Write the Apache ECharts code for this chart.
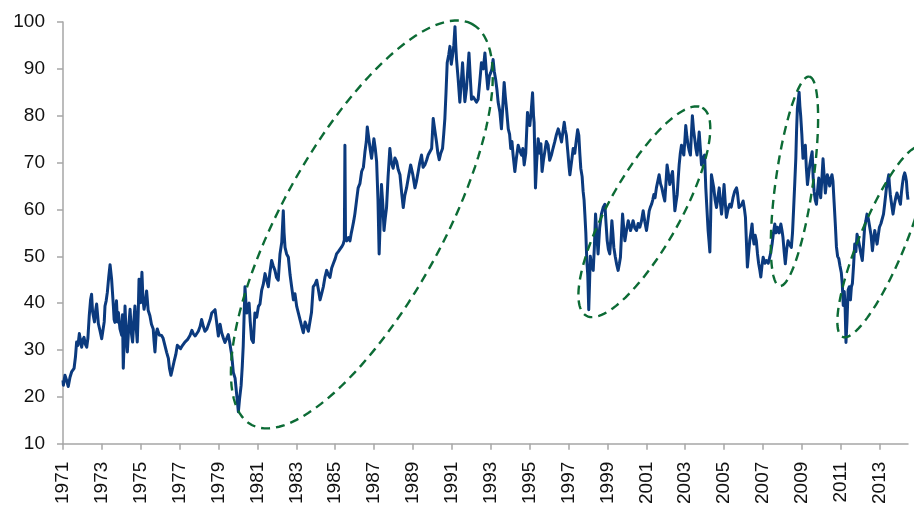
<!DOCTYPE html>
<html>
<head>
<meta charset="utf-8">
<script src="https://cdn.jsdelivr.net/npm/echarts@6/dist/echarts.min.js"></script>
<style>
html,body{margin:0;padding:0;background:#fff;}
#chart{width:914px;height:507px;}
</style>
</head>
<body>
<div id="chart"></div>
<script>
// Tick labels
const xTickLabels = ['1971','1973','1975','1977','1979','1981','1983','1985','1987','1989','1991','1993','1995','1997','1999','2001','2003','2005','2007','2009','2011','2013'];
const yTickValues = [10,20,30,40,50,60,70,80,90,100];

// Series values [decimal year, value]
const values1971to1978 = [
[1971.00,23.5],[1971.02,22.5],[1971.10,24.6],[1971.18,23.6],[1971.27,22.2],[1971.36,24.2],[1971.45,25.4],[1971.57,26.1],[1971.64,28.5],[1971.70,31.7],
[1971.77,31.0],[1971.84,33.5],[1971.90,32.0],[1971.96,30.6],[1972.02,32.2],[1972.08,32.7],[1972.15,31.2],[1972.22,30.6],[1972.28,32.5],[1972.35,37.3],
[1972.42,40.8],[1972.47,41.9],[1972.52,38.2],[1972.56,37.3],[1972.62,36.0],[1972.68,38.5],[1972.73,39.8],[1972.82,35.6],[1972.90,34.2],[1972.99,32.4],
[1973.07,32.2],[1973.12,36.0],[1973.16,39.4],[1973.22,40.5],[1973.28,42.3],[1973.35,45.5],[1973.42,48.2],[1973.50,45.1],[1973.55,42.0],[1973.59,39.4],
[1973.63,36.5],[1973.67,35.9],[1973.75,40.5],[1973.80,36.0],[1973.85,38.0],[1973.93,34.5],[1974.02,33.1],[1974.06,37.5],[1974.10,26.1],[1974.14,31.0],
[1974.19,39.4],[1974.25,33.0],[1974.31,29.6],[1974.38,35.0],[1974.45,38.7],[1974.52,33.5],[1974.58,31.7],[1974.64,36.0],[1974.70,39.4],[1974.76,35.0],
[1974.82,31.7],[1974.87,38.0],[1974.91,45.1],[1974.95,42.0],[1974.99,40.1],[1975.06,46.6],[1975.11,41.0],[1975.17,38.7],[1975.24,40.5],[1975.30,42.6],
[1975.38,38.5],[1975.47,37.3],[1975.55,35.5],[1975.64,34.5],[1975.68,32.0],[1975.73,29.6],[1975.79,33.5],[1975.85,34.5],[1975.95,33.2],[1976.07,33.1],
[1976.15,32.5],[1976.24,31.0],[1976.33,29.5],[1976.42,28.2],[1976.48,26.0],[1976.55,24.6],[1976.62,25.8],[1976.71,27.5],[1976.80,29.0],[1976.88,31.0],
[1976.96,30.8],[1977.05,30.3],[1977.15,31.0],[1977.27,31.7],[1977.40,32.2],[1977.53,33.1],[1977.63,34.2],[1977.70,33.5],[1977.80,33.0],[1977.96,34.0]
];
const values1978to1985 = [
[1978.05,35.0],[1978.13,36.5],[1978.22,35.0],[1978.30,34.0],[1978.40,34.5],[1978.48,34.7],[1978.57,36.5],[1978.65,37.9],[1978.74,38.0],[1978.82,38.6],
[1978.90,36.0],[1978.99,33.0],[1979.08,35.5],[1979.16,33.7],[1979.25,32.5],[1979.33,31.6],[1979.42,32.5],[1979.50,33.3],[1979.58,31.5],[1979.68,28.8],
[1979.76,25.2],[1979.85,24.0],[1979.93,23.8],[1980.02,16.8],[1980.08,19.5],[1980.16,22.4],[1980.22,26.5],[1980.27,30.9],[1980.32,38.0],[1980.36,43.5],
[1980.41,40.0],[1980.45,37.9],[1980.51,39.5],[1980.57,40.0],[1980.63,36.0],[1980.70,32.3],[1980.79,31.6],[1980.87,37.9],[1980.96,37.0],[1981.05,39.3],
[1981.13,39.8],[1981.22,42.8],[1981.30,44.0],[1981.39,46.3],[1981.47,45.0],[1981.56,43.5],[1981.64,46.5],[1981.73,49.1],[1981.81,48.0],[1981.90,47.0],
[1981.98,45.5],[1982.07,44.9],[1982.16,50.5],[1982.25,53.0],[1982.33,59.7],[1982.37,55.0],[1982.42,51.9],[1982.50,50.5],[1982.59,49.8],[1982.68,46.0],
[1982.76,43.5],[1982.85,40.7],[1982.93,42.0],[1983.02,39.3],[1983.10,38.0],[1983.19,36.5],[1983.28,35.0],[1983.36,33.7],[1983.45,36.0],[1983.53,35.1],
[1983.62,34.0],[1983.70,33.7],[1983.78,38.0],[1983.87,43.5],[1983.96,44.0],[1984.05,44.9],[1984.13,43.0],[1984.22,40.7],[1984.30,42.0],[1984.39,43.5],
[1984.47,45.5],[1984.56,47.0],[1984.65,46.0],[1984.73,45.5],[1984.82,47.5],[1984.90,48.4]
];
const values1985to1992 = [
[1985.00,49.5],[1985.07,50.5],[1985.16,51.0],[1985.24,51.2],[1985.33,52.0],[1985.41,52.6],[1985.47,53.5],[1985.50,73.7],[1985.53,54.0],[1985.59,53.3],
[1985.68,54.0],[1985.76,53.3],[1985.83,55.0],[1985.89,56.2],[1985.95,57.5],[1986.01,59.0],[1986.10,62.0],[1986.18,64.6],[1986.27,65.5],[1986.36,68.1],
[1986.45,69.0],[1986.53,72.3],[1986.60,74.5],[1986.65,77.6],[1986.70,76.0],[1986.75,74.4],[1986.81,72.5],[1986.87,70.9],[1986.93,73.0],[1986.99,75.1],
[1987.06,73.0],[1987.13,70.2],[1987.20,62.0],[1987.26,50.5],[1987.32,58.0],[1987.38,65.3],[1987.45,61.0],[1987.51,55.5],[1987.57,58.0],[1987.64,60.4],
[1987.72,67.0],[1987.81,73.0],[1987.89,70.0],[1987.98,68.8],[1988.07,71.0],[1988.16,70.2],[1988.24,68.5],[1988.33,67.4],[1988.42,63.5],[1988.50,60.4],
[1988.58,63.0],[1988.67,64.6],[1988.77,67.0],[1988.88,69.5],[1988.99,67.5],[1989.10,64.6],[1989.18,66.0],[1989.27,68.1],[1989.35,70.0],[1989.44,71.6],
[1989.52,69.0],[1989.61,69.5],[1989.70,70.5],[1989.78,71.6],[1989.87,72.0],[1989.96,73.0],[1990.04,79.4],[1990.12,77.0],[1990.21,74.4],[1990.28,72.0],
[1990.35,70.6],[1990.43,72.0],[1990.52,73.0],[1990.58,76.0],[1990.64,79.4],[1990.70,85.0],[1990.76,91.3],[1990.84,93.0],[1990.90,94.8],[1990.97,91.0],
[1991.03,92.7],[1991.10,95.0],[1991.16,99.0],[1991.20,95.0],[1991.24,92.0],[1991.32,88.0],[1991.41,82.9],[1991.48,87.0],[1991.55,91.3],[1991.61,87.0],
[1991.67,83.0],[1991.75,85.7],[1991.88,93.4],[1991.95,88.0],[1992.01,83.5]
];
const values1992to1999 = [
[1992.10,84.0],[1992.18,84.3],[1992.27,82.9],[1992.35,83.5],[1992.43,87.0],[1992.52,91.3],[1992.62,90.0],[1992.70,93.4],[1992.78,89.0],[1992.85,85.7],
[1992.93,88.5],[1993.00,89.2],[1993.06,90.0],[1993.12,92.0],[1993.18,89.5],[1993.25,87.8],[1993.32,85.5],[1993.38,82.9],[1993.47,80.8],[1993.55,77.2],
[1993.62,82.0],[1993.69,87.1],[1993.75,84.0],[1993.81,81.5],[1993.90,77.2],[1993.97,76.0],[1994.03,73.0],[1994.09,74.5],[1994.15,71.6],[1994.24,68.1],
[1994.32,71.0],[1994.41,73.7],[1994.50,72.5],[1994.58,71.6],[1994.65,73.0],[1994.72,69.5],[1994.80,72.0],[1994.89,80.7],[1994.95,78.5],[1995.01,77.9],
[1995.08,81.0],[1995.15,84.9],[1995.20,80.0],[1995.23,78.6],[1995.30,64.6],[1995.36,70.0],[1995.44,75.1],[1995.52,72.0],[1995.58,74.0],[1995.64,68.1],
[1995.71,70.5],[1995.78,72.3],[1995.86,74.5],[1995.95,73.7],[1996.03,70.5],[1996.12,71.6],[1996.20,73.0],[1996.29,74.4],[1996.38,76.0],[1996.47,77.2],
[1996.55,76.0],[1996.64,74.4],[1996.71,76.5],[1996.78,78.6],[1996.83,77.0],[1996.89,75.8],[1996.97,72.0],[1997.03,69.0],[1997.07,67.4],[1997.15,70.0],
[1997.24,73.0],[1997.32,72.0],[1997.41,75.1],[1997.47,77.0],[1997.53,75.8],[1997.58,72.0],[1997.63,68.8],[1997.70,67.0],[1997.75,63.9],[1997.80,62.0],
[1997.84,59.0],[1997.89,55.0],[1997.94,49.1],[1997.99,46.0],[1998.04,38.6],[1998.08,44.0],[1998.12,50.0],[1998.15,49.1],[1998.21,48.0],[1998.27,47.0],
[1998.33,52.0],[1998.39,59.0],[1998.45,55.0],[1998.52,50.5],[1998.60,56.0],[1998.69,59.0],[1998.78,60.4],[1998.87,61.1],[1998.93,57.0],[1998.99,53.3]
];
const values1999to2006 = [
[1999.05,51.5],[1999.12,50.5],[1999.18,54.0],[1999.23,57.6],[1999.28,55.0],[1999.33,51.9],[1999.40,50.0],[1999.47,48.4],[1999.55,47.0],[1999.62,48.5],
[1999.67,49.8],[1999.73,55.0],[1999.78,59.0],[1999.84,56.0],[1999.90,53.3],[1999.98,55.5],[2000.07,57.6],[2000.13,56.5],[2000.19,55.5],[2000.26,56.5],
[2000.32,57.6],[2000.41,56.0],[2000.50,55.5],[2000.58,57.0],[2000.67,56.2],[2000.75,57.5],[2000.84,59.7],[2000.92,57.5],[2001.01,55.5],[2001.08,57.5],
[2001.15,59.7],[2001.21,60.5],[2001.27,61.1],[2001.33,62.0],[2001.39,63.2],[2001.45,62.5],[2001.52,64.6],[2001.59,66.0],[2001.66,67.4],[2001.73,65.5],
[2001.80,64.6],[2001.88,63.0],[2001.95,61.8],[2002.01,65.5],[2002.07,69.5],[2002.14,67.5],[2002.21,65.3],[2002.28,67.0],[2002.35,68.1],[2002.41,64.0],
[2002.47,59.7],[2002.53,61.5],[2002.59,63.2],[2002.64,66.5],[2002.69,69.5],[2002.75,72.0],[2002.81,73.7],[2002.87,72.5],[2002.93,71.6],[2002.98,74.5],
[2003.03,77.9],[2003.09,75.5],[2003.15,73.7],[2003.21,72.5],[2003.27,71.6],[2003.32,76.0],[2003.37,80.0],[2003.43,77.0],[2003.49,75.1],[2003.55,73.0],
[2003.61,71.6],[2003.67,74.0],[2003.72,76.5],[2003.78,73.0],[2003.84,69.5],[2003.92,71.0],[2004.00,71.6],[2004.03,68.0],[2004.06,64.6],[2004.12,60.0],
[2004.18,55.5],[2004.23,53.0],[2004.27,50.9],[2004.31,58.0],[2004.35,67.4],[2004.41,66.0],[2004.47,64.6],[2004.54,62.0],[2004.61,60.4],[2004.68,62.5],
[2004.75,64.6],[2004.81,61.5],[2004.87,59.0],[2004.94,62.0],[2005.00,65.3],[2005.06,61.5],[2005.12,58.3],[2005.20,60.0],[2005.29,61.1],[2005.37,60.5],
[2005.46,62.5],[2005.55,63.9],[2005.64,64.6],[2005.69,63.5],[2005.77,60.4],[2005.84,60.8],[2005.90,61.0],[2005.98,61.8]
];
const values2006to2014 = [
[2006.05,60.0],[2006.10,58.3],[2006.15,53.0],[2006.20,47.7],[2006.26,50.5],[2006.32,53.3],[2006.38,55.0],[2006.44,56.9],[2006.49,54.0],[2006.54,52.6],
[2006.60,54.5],[2006.66,53.3],[2006.72,50.5],[2006.78,48.4],[2006.84,47.0],[2006.89,45.6],[2006.95,48.0],[2007.01,49.8],[2007.10,48.5],[2007.18,49.1],
[2007.27,48.5],[2007.35,49.8],[2007.41,51.0],[2007.47,52.6],[2007.54,55.0],[2007.61,56.9],[2007.67,55.0],[2007.74,56.2],[2007.83,55.0],[2007.92,56.9],
[2007.98,55.5],[2008.03,54.0],[2008.09,51.0],[2008.15,48.4],[2008.22,51.5],[2008.29,53.3],[2008.37,52.5],[2008.46,51.9],[2008.52,55.0],[2008.58,60.4],
[2008.64,66.0],[2008.69,70.9],[2008.73,77.0],[2008.77,81.5],[2008.82,83.5],[2008.86,85.0],[2008.90,82.0],[2008.94,80.0],[2009.00,76.0],[2009.06,70.9],
[2009.12,72.5],[2009.18,73.7],[2009.23,69.0],[2009.29,65.3],[2009.35,67.5],[2009.41,69.5],[2009.47,71.0],[2009.53,72.3],[2009.58,67.0],[2009.63,63.9],
[2009.69,62.0],[2009.75,61.1],[2009.81,64.0],[2009.87,66.7],[2009.92,64.0],[2009.97,62.5],[2010.03,66.5],[2010.09,70.8],[2010.15,67.0],[2010.21,63.5],
[2010.26,65.5],[2010.31,67.4],[2010.37,66.5],[2010.43,65.0],[2010.49,66.5],[2010.55,67.4],[2010.60,66.0],[2010.66,61.5],[2010.72,57.0],[2010.78,52.0],
[2010.84,50.0],[2010.90,49.5],[2010.96,48.0],[2011.03,46.5],[2011.08,44.0],[2011.13,39.5],[2011.18,42.5],[2011.22,40.0],[2011.27,31.6],[2011.32,36.0],
[2011.38,42.8],[2011.44,43.5],[2011.50,40.7],[2011.55,43.5],[2011.60,44.2],[2011.66,48.0],[2011.72,52.6],[2011.78,51.0],[2011.84,54.7],[2011.91,53.5],
[2011.98,51.9],[2012.04,50.5],[2012.11,49.1],[2012.17,52.5],[2012.23,56.2],[2012.29,57.5],[2012.35,59.0],[2012.42,58.0],[2012.49,57.6],[2012.56,54.5],
[2012.63,51.2],[2012.69,53.5],[2012.75,55.5],[2012.81,54.0],[2012.87,52.6],[2012.93,54.5],[2012.99,56.2],[2013.07,57.0],[2013.14,56.9],[2013.20,59.0],
[2013.26,61.1],[2013.31,63.0],[2013.35,64.6],[2013.41,66.0],[2013.47,67.4],[2013.51,65.0],[2013.55,63.2],[2013.62,61.0],[2013.69,59.0],[2013.76,61.0],
[2013.83,62.5],[2013.89,63.5],[2013.95,63.2],[2014.01,62.0],[2014.07,61.1],[2014.12,63.5],[2014.17,65.3],[2014.23,67.0],[2014.29,67.8],[2014.34,67.0],
[2014.38,66.0],[2014.42,63.5],[2014.46,62.1]
];

// Annotation ellipses: centre, end of one semi-diameter, end of the conjugate semi-diameter (data coordinates)
const ellipseCentres = [[1986.37,56.8],[2000.90,59.5],[2008.62,66.0],[2013.13,53.1]];
const ellipseMajorEnds = [[1992.03,99.6],[2003.88,81.7],[2009.38,88.35],[2015.16,73.4]];
const ellipseMinorEnds = [[1990.02,48.8],[2002.52,55.9],[2009.57,65.46],[2014.22,51.3]];

const lineData = [].concat(values1971to1978, values1978to1985, values1985to1992, values1992to1999, values1999to2006, values2006to2014);
const ellipseData = ellipseCentres.map((c, i) => [c[0], c[1], ellipseMajorEnds[i][0], ellipseMajorEnds[i][1], ellipseMinorEnds[i][0], ellipseMinorEnds[i][1]]);
const xTickValues = xTickLabels.map(Number);

const chart = echarts.init(document.getElementById('chart'), null, {renderer: 'canvas'});
const axisGray = '#a6a6a6';
const font = 'Liberation Sans, Arial, sans-serif';

chart.setOption({
  animation: false,
  backgroundColor: '#ffffff',
  grid: {left: 63, right: 6, top: 22, bottom: 58, containLabel: false},
  xAxis: {
    type: 'value',
    min: 1971,
    max: 2014.46,
    splitLine: {show: false},
    axisLine: {show: true, onZero: false, lineStyle: {color: axisGray, width: 1.5}},
    axisTick: {show: true, length: 6, lineStyle: {color: axisGray, width: 1.5}, customValues: xTickValues},
    axisLabel: {
      customValues: xTickValues,
      rotate: 90,
      margin: 18,
      color: '#111',
      fontSize: 19,
      fontFamily: font,
      formatter: v => String(Math.round(v))
    }
  },
  yAxis: {
    type: 'value',
    min: 10,
    max: 100,
    interval: 10,
    splitLine: {show: false},
    axisLine: {show: true, lineStyle: {color: axisGray, width: 1.5}},
    axisTick: {show: true, length: 6, lineStyle: {color: axisGray, width: 1.5}},
    axisLabel: {margin: 18, color: '#111', fontSize: 19, fontFamily: font}
  },
  series: [
    {
      type: 'line',
      data: lineData,
      showSymbol: false,
      symbol: 'none',
      sampling: null,
      lineStyle: {color: '#0b3a7e', width: 3, join: 'round'},
      z: 2
    },
    {
      type: 'custom',
      data: ellipseData,
      clip: false,
      z: 3,
      encode: {x: [0, 2, 4], y: [1, 3, 5]},
      renderItem: function (params, api) {
        const c = api.coord([api.value(0), api.value(1)]);
        const m = api.coord([api.value(2), api.value(3)]);
        const n = api.coord([api.value(4), api.value(5)]);
        const pts = [];
        const steps = 120;
        for (let i = 0; i <= steps; i++) {
          const t = i / steps * Math.PI * 2;
          pts.push([
            c[0] + Math.cos(t) * (m[0] - c[0]) + Math.sin(t) * (n[0] - c[0]),
            c[1] + Math.cos(t) * (m[1] - c[1]) + Math.sin(t) * (n[1] - c[1])
          ]);
        }
        return {
          type: 'polyline',
          shape: {points: pts},
          style: {fill: null, stroke: '#0c6b35', lineWidth: 2.4, lineDash: [9, 6]}
        };
      }
    }
  ]
});
</script>
</body>
</html>
